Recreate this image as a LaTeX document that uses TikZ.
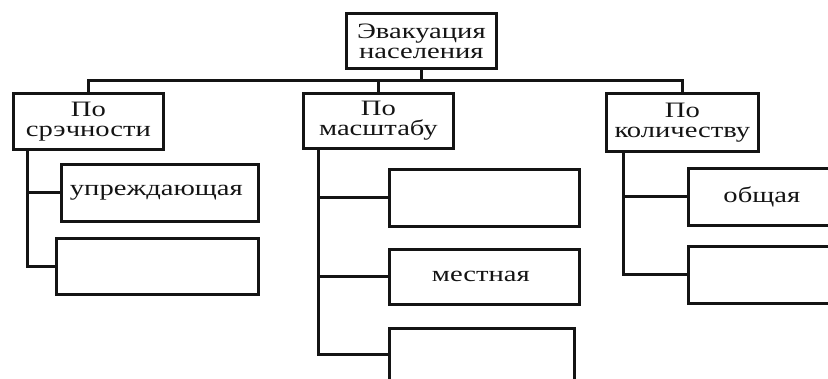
\documentclass[tikz,border=0pt]{standalone}
\usepackage{fontspec}
\setmainfont{Liberation Serif}[FakeStretch=1.3]
\usepackage{tikz}
\definecolor{ink}{RGB}{20, 20, 20}

\begin{document}
\begin{tikzpicture}[x=1pt, y=-1pt,
  box/.style={draw=ink, line width=2.8pt, anchor=north west, inner sep=0pt,
    align=center, text=ink, font=\fontsize{22}{20}\selectfont},
  link/.style={draw=ink, line width=3pt},
]
  \useasboundingbox (0, 0) rectangle (828, 378);

  \node[box, minimum width=150, minimum height=55] (evac) at (345, 12)
    { Эвакуация\\населения };
  \coordinate (bus) at (0, 80);

  %
  \node[box, minimum width=150, minimum height=56] (srok) at (12, 92)
    { По\\срэчности };
  \node[box, minimum width=197, minimum height=57] (upr) at (60, 163)
    { упреждающая };
  \node[box, minimum width=202, minimum height=56] (srok2) at (55, 237) {};

  %
  \node[box, minimum width=150, minimum height=55] (masht) at (302, 92)
    { По\\масштабу };
  \node[box, minimum width=190, minimum height=57] (masht1) at (388, 168) {};
  \node[box, minimum width=190, minimum height=55] (mest) at (388, 248)
    { местная };
  \node[box, minimum width=185, minimum height=52] (masht3) at (388, 327) {};

  %
  \node[box, minimum width=152, minimum height=58] (kol) at (605, 92)
    { По\\количеству };
  \node[box, minimum width=170, minimum height=57] (obsh) at (687, 167)
    { \hspace*{-16pt}общая };
  \node[box, minimum width=170, minimum height=57] (kol2) at (687, 245) {};

  % links
  \draw[link] (evac.south) -- (evac.south |- bus);
  \draw[link] (srok.north) |- (kol.north |- bus) -- (kol.north);
  \draw[link] (masht.north) -- (masht.north |- bus);

  \draw[link] ([xshift=15]srok.south west) |- (upr.west);
  \draw[link] ([xshift=15]srok.south west) |- (srok2.west);

  \draw[link] ([xshift=16]masht.south west) |- (masht1.west);
  \draw[link] ([xshift=16]masht.south west) |- (mest.west);
  \draw[link] ([xshift=16]masht.south west) |- (masht3.west);

  \draw[link] ([xshift=18]kol.south west) |- (obsh.west);
  \draw[link] ([xshift=18]kol.south west) |- (kol2.west);

\end{tikzpicture}
\end{document}
